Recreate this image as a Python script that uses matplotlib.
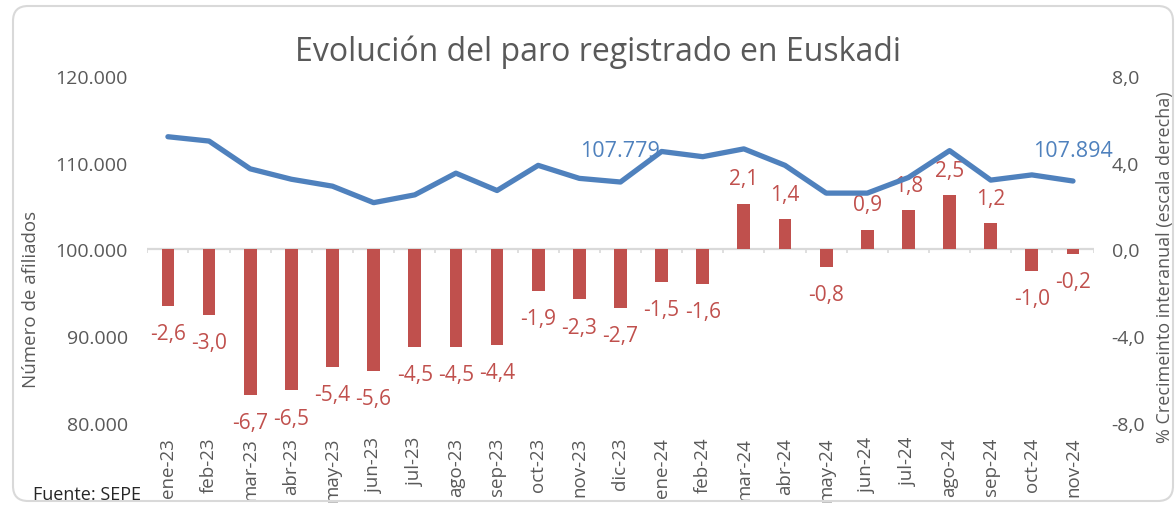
import matplotlib.pyplot as plt
from matplotlib.patches import FancyBboxPatch

plt.rcParams['font.family'] = ['Open Sans', 'DejaVu Sans']

meses = ["ene-23", "feb-23", "mar-23", "abr-23", "may-23", "jun-23", "jul-23", "ago-23",
         "sep-23", "oct-23", "nov-23", "dic-23", "ene-24", "feb-24", "mar-24", "abr-24",
         "may-24", "jun-24", "jul-24", "ago-24", "sep-24", "oct-24", "nov-24"]
# paro registrado (eje izquierdo)
paro = [113000, 112500, 109300, 108100, 107300, 105400, 106300, 108800, 106800, 109700,
        108200, 107779, 111300, 110700, 111600, 109700, 106500, 106500, 108300, 111400,
        108000, 108600, 107894]
# % crecimiento interanual (eje derecho)
crec = [-2.6, -3.0, -6.7, -6.5, -5.4, -5.6, -4.5, -4.5, -4.4, -1.9, -2.3, -2.7,
        -1.5, -1.6, 2.1, 1.4, -0.8, 0.9, 1.8, 2.5, 1.2, -1.0, -0.2]
ticks_izq = [80000, 90000, 100000, 110000, 120000]
ticks_der = [-8, -4, 0, 4, 8]

azul = "#4F81BD"
rojo = "#C0504D"
gris = "#595959"

fig = plt.figure(figsize=(11.76, 5.06), dpi=100)
ax = fig.add_axes([0.1253, 0.1621, 0.8046, 0.6857])
ax2 = ax.twinx()
ax.set_zorder(ax2.get_zorder() + 1)
ax.patch.set_visible(False)

x = list(range(len(meses)))

# barras
ax2.bar(x, crec, width=0.31, color=rojo, zorder=2)
for i, v in zip(x, crec):
    off = 18 if v > 0 else -20
    ax2.annotate(f"{v:.1f}".replace(".", ","), (i, v), xytext=(0, off),
                 textcoords="offset points", ha="center", va="center",
                 color=rojo, fontsize=15)
ax2.axhline(0, color="#D9D9D9", lw=1.6, zorder=1)
ax2.vlines([i - 0.5 for i in range(len(meses) + 1)], -0.18, 0, color="#D9D9D9", lw=1.2)

# linea
ax.plot(x, paro, color=azul, lw=3.8, solid_capstyle="round")
ax.annotate("107.779", (11, paro[11]), xytext=(0, 23), textcoords="offset points",
            ha="center", va="center", color=azul, fontsize=15.5)
ax.annotate("107.894", (22, paro[22]), xytext=(0, 22), textcoords="offset points",
            ha="center", va="center", color=azul, fontsize=15.5)

ax.set_xlim(-0.5, len(meses) - 0.5)
ax.set_ylim(80000, 120000)
ax2.set_ylim(-8, 8)

ax.set_yticks(ticks_izq)
ax.set_yticklabels([f"{t:,}".replace(",", ".") for t in ticks_izq])
ax2.set_yticks(ticks_der)
ax2.set_yticklabels([f"{t:.1f}".replace(".", ",") for t in ticks_der])
ax.set_xticks(x)
ax.set_xticklabels(meses, rotation=90)

for a in (ax, ax2):
    for s in a.spines.values():
        s.set_visible(False)
ax.tick_params(axis="both", length=0, colors=gris, labelsize=14)
ax.tick_params(axis="y", pad=14)
ax.tick_params(axis="x", pad=10, labelsize=13.5)
ax2.tick_params(axis="y", length=0, colors=gris, labelsize=14, pad=13)

ax.set_ylabel("Número de afiliados", color=gris, fontsize=13.5)
ax.yaxis.set_label_coords(-0.1135, 0.36)
ax2.set_ylabel("% Crecimeinto interanual (escala derecha)", color=gris, fontsize=13)
ax2.yaxis.set_label_coords(1.066, 0.452)

fig.text(0.5085, 0.897, "Evolución del paro registrado en Euskadi", ha="center",
         va="center", color=gris, fontsize=23)
fig.text(0.028, 0.0217, "Fuente: SEPE", ha="left", va="center", color="#262626", fontsize=13)

borde = FancyBboxPatch((13 / 1176, 4 / 506), 1160 / 1176, 495 / 506,
                       boxstyle="round,pad=0,rounding_size=0.0128",
                       mutation_aspect=1176 / 506, transform=fig.transFigure,
                       fill=False, edgecolor="#D9D9D9", lw=1.5)
fig.patches.append(borde)

fig.savefig("out.png", dpi=100)
